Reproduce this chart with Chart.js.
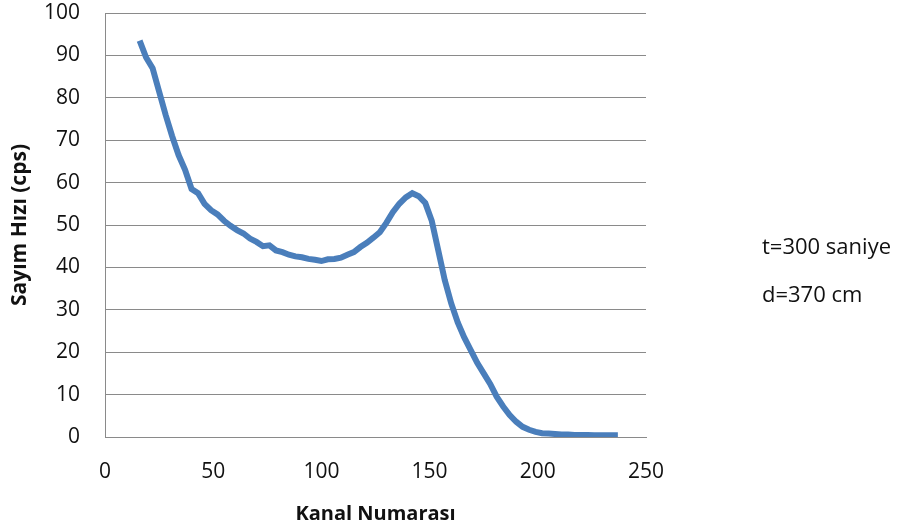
<!DOCTYPE html>
<html>
<head>
<meta charset="utf-8">
<script src="https://cdn.jsdelivr.net/npm/chart.js@4/dist/chart.umd.min.js"></script>
<style>
  html, body { margin: 0; padding: 0; background: #fff; }
  #wrap { position: relative; width: 905px; height: 532px; }
</style>
</head>
<body>
<div id="wrap"><canvas id="spectrumChart" width="905" height="532"></canvas></div>
<script>
// Kanal numarasi ve sayim hizi (cps)
const channels = [16, 19, 22, 25, 28, 31, 34, 37, 40, 43, 46, 49, 52, 55, 58, 61, 64, 67, 70, 73,
  76, 79, 82, 85, 88, 91, 94, 97, 100, 103, 106, 109, 112, 115, 118, 121, 124, 127, 130, 133,
  136, 139, 142, 145, 148, 151, 154, 157, 160, 163, 166, 169, 172, 175, 178, 181, 184, 187, 190, 193,
  196, 199, 202, 205, 208, 211, 214, 217, 220, 223, 226, 229, 232, 235, 237];
const countRates = [93.5, 89.5, 87.0, 81.5, 76.0, 71.0, 66.5, 63.0, 58.5, 57.5, 55.0, 53.5, 52.5, 51.0, 49.8, 48.8, 48.0, 46.8, 46.0, 45.0,
  45.2, 44.0, 43.6, 43.0, 42.6, 42.4, 42.0, 41.8, 41.5, 41.9, 42.0, 42.3, 43.0, 43.6, 44.8, 45.8, 47.0, 48.3, 50.5, 53.0,
  55.0, 56.5, 57.5, 56.8, 55.2, 51.0, 44.0, 37.0, 31.5, 27.0, 23.5, 20.5, 17.5, 15.0, 12.5, 9.5, 7.2, 5.2, 3.6, 2.4,
  1.7, 1.2, 0.9, 0.8, 0.7, 0.6, 0.6, 0.5, 0.5, 0.5, 0.4, 0.4, 0.4, 0.4, 0.4];
const notes = ['t=300 saniye', 'd=370 cm'];

const FONT = "'Open Sans', sans-serif";
const TEXT = '#111';
const GRID = '#8a8a8a';

// sag taraftaki aciklama yazilari
const notesPlugin = {
  id: 'notes',
  afterDraw(chart) {
    const c = chart.ctx;
    c.save();
    c.font = '22px ' + FONT;
    c.fillStyle = TEXT;
    c.textBaseline = 'middle';
    c.textAlign = 'left';
    notes.forEach((t, i) => c.fillText(t, 762, 248 + i * 48));
    c.restore();
  }
};

const ctx = document.getElementById('spectrumChart').getContext('2d');
new Chart(ctx, {
  type: 'scatter',
  data: {
    datasets: [{
      data: channels.map((x, i) => ({ x: x, y: countRates[i] })),
      showLine: true,
      borderColor: '#4A7EBB',
      borderWidth: 6,
      pointRadius: 0,
      tension: 0
    }]
  },
  options: {
    responsive: false,
    animation: false,
    layout: { padding: { left: 0, top: 13, right: 259, bottom: 0 } },
    plugins: { legend: { display: false }, tooltip: { enabled: false } },
    scales: {
      x: {
        type: 'linear',
        min: 0, max: 250,
        ticks: { stepSize: 50, padding: 22, color: TEXT, font: { family: FONT, size: 21 } },
        grid: { display: false, drawTicks: false },
        border: { display: true, color: GRID, width: 1 },
        title: { display: true, text: 'Kanal Numarası', color: TEXT, font: { family: FONT, size: 20, weight: 'bold' }, padding: { top: 0, bottom: 6 } },
        afterFit(scale) { scale.height = 95; scale.paddingLeft = 0; scale.paddingRight = 0; }
      },
      y: {
        min: 0, max: 100,
        ticks: { stepSize: 10, padding: 25, color: TEXT, font: { family: FONT, size: 21 } },
        grid: { color: GRID, lineWidth: 1, drawTicks: false },
        border: { display: true, color: GRID, width: 1 },
        title: { display: true, text: 'Sayım Hızı (cps)', color: TEXT, font: { family: FONT, size: 21, weight: 'bold' }, padding: { top: 7, bottom: 0 } },
        afterFit(scale) { scale.width = 105; scale.paddingTop = 0; scale.paddingBottom = 0; }
      }
    }
  },
  plugins: [notesPlugin]
});
</script>
</body>
</html>
